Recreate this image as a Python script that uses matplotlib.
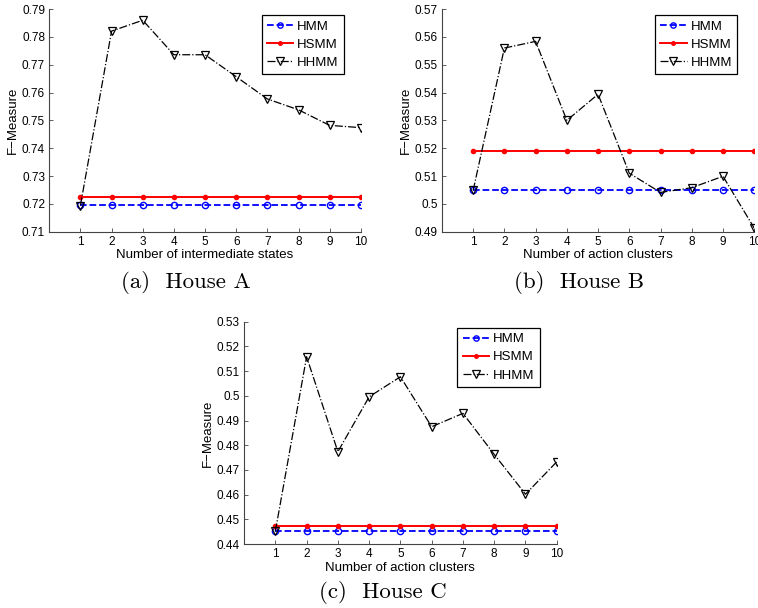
import matplotlib
matplotlib.use('Agg')
import matplotlib.pyplot as plt

plt.rcParams['font.family'] = ['Liberation Sans', 'DejaVu Sans']

x = list(range(1, 11))

# House A
hmm_a = [0.7196] * 10
hsmm_a = [0.7223] * 10
hhmm_a = [0.7194, 0.7821, 0.7860, 0.7736, 0.7736, 0.7657, 0.7577, 0.7538, 0.7482, 0.7474]

# House B
hmm_b = [0.5048] * 10
hsmm_b = [0.5189] * 10
hhmm_b = [0.5048, 0.5560, 0.5584, 0.5300, 0.5394, 0.5110, 0.5041, 0.5058, 0.5099, 0.4913]

# House C
hmm_c = [0.4454] * 10
hsmm_c = [0.4474] * 10
hhmm_c = [0.4452, 0.5158, 0.4774, 0.4996, 0.5077, 0.4875, 0.4929, 0.4763, 0.4602, 0.4733]

panels = [
    # rect, data, ylim, yticks, xlabel, caption, caption pos
    ([0.065, 0.619, 0.411, 0.366], (hmm_a, hsmm_a, hhmm_a), (0.71, 0.79),
     ['0.71', '0.72', '0.73', '0.74', '0.75', '0.76', '0.77', '0.78', '0.79'],
     'Number of intermediate states', '(a)  House A', (186, 282)),
    ([0.583, 0.619, 0.412, 0.366], (hmm_b, hsmm_b, hhmm_b), (0.49, 0.57),
     ['0.49', '0.5', '0.51', '0.52', '0.53', '0.54', '0.55', '0.56', '0.57'],
     'Number of action clusters', '(b)  House B', (579, 282)),
    ([0.322, 0.105, 0.4125, 0.366], (hmm_c, hsmm_c, hhmm_c), (0.44, 0.53),
     ['0.44', '0.45', '0.46', '0.47', '0.48', '0.49', '0.5', '0.51', '0.52', '0.53'],
     'Number of action clusters', '(c)  House C', (383, 593)),
]

fig = plt.figure(figsize=(7.58, 6.08), dpi=100)
W, H = 758, 608

for rect, (hmm, hsmm, hhmm), ylim, ylabels, xlabel, caption, cpos in panels:
    ax = fig.add_axes(rect)
    ax.plot(x, hmm, '--', color='blue', lw=1.3, marker='o', ms=4.5, mfc='none',
            mec='blue', mew=1.0, label='HMM')
    ax.plot(x, hsmm, '-', color='red', lw=1.4, marker='.', ms=6, label='HSMM')
    ax.plot(x, hhmm, '-.', color='black', lw=0.9, marker='v', ms=6, mfc='none',
            mec='black', mew=0.9, label='HHMM')

    ax.set_xlim(0, 10)
    ax.set_ylim(*ylim)
    ax.set_xticks(x)
    yt = [float(v) for v in ylabels]
    ax.set_yticks(yt)
    ax.set_yticklabels(ylabels)
    ax.spines['top'].set_visible(False)
    ax.spines['right'].set_visible(False)
    for s in ('left', 'bottom'):
        ax.spines[s].set_color('#444444')
        ax.spines[s].set_linewidth(0.8)
    ax.tick_params(direction='in', length=3, width=0.6, colors='#444444',
                   labelcolor='black', labelsize=8.5, pad=3)
    ax.set_xlabel(xlabel, fontsize=9.5, labelpad=1)
    ax.set_ylabel('F\u2212Measure', fontsize=9.5, labelpad=2)

    leg = ax.legend(loc='upper right', bbox_to_anchor=(0.946, 0.973),
                    borderaxespad=0, fontsize=9.5, handlelength=2.0,
                    handletextpad=0.3, labelspacing=0.45, borderpad=0.4,
                    fancybox=False, framealpha=1, markerscale=0.85)
    leg.get_frame().set_edgecolor('black')
    leg.get_frame().set_linewidth(0.9)

    fig.text(cpos[0] / W, 1 - cpos[1] / H, caption, family='cmr10',
             fontsize=16.5, ha='center', va='center')

fig.savefig('out.png', dpi=100)
